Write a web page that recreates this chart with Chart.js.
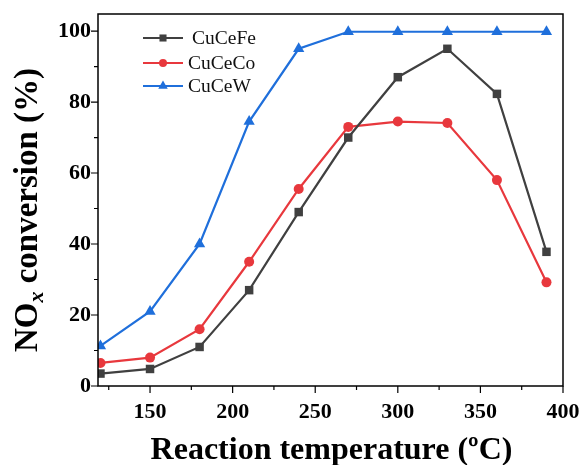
<!DOCTYPE html>
<html>
<head>
<meta charset="utf-8">
<script src="https://cdn.jsdelivr.net/npm/chart.js@4/dist/chart.umd.min.js"></script>
<style>
  html, body { margin: 0; padding: 0; background: #fff; }
  #wrap { width: 584px; height: 465px; }
</style>
</head>
<body>
<div id="wrap"><canvas id="nox-chart" width="584" height="465"></canvas></div>
<script>
// reaction temperature (°C)
const temps = [120, 150, 180, 210, 240, 270, 300, 330, 360, 390];
// NOx conversion (%)
const cuCeFe = [3.5, 4.8, 11, 27, 49, 70, 87, 95, 82.3, 37.8];
const cuCeCo = [6.5, 8, 16, 35, 55.5, 73, 74.5, 74.1, 58, 29.2];
const cuCeW  = [11.3, 21, 40, 74.5, 95, 99.8, 99.8, 99.8, 99.8, 99.8];

const xMajor = [150, 200, 250, 300, 350, 400];
const xMinor = [125, 175, 225, 275, 325, 375];
const yMajor = [0, 20, 40, 60, 80, 100];
const yMinor = [10, 30, 50, 70, 90];

const serif = "'Liberation Serif', 'Times New Roman', serif";

function pts(ys) {
  return temps.map((t, i) => ({ x: t, y: ys[i] }));
}

// frame, outward ticks, axis titles and the inset legend
const decor = {
  id: 'decor',
  afterDraw(chart) {
    const ctx = chart.ctx;
    const a = chart.chartArea;
    const xs = chart.scales.x, ys = chart.scales.y;
    ctx.save();
    ctx.strokeStyle = '#000';
    ctx.lineWidth = 1.5;
    ctx.strokeRect(a.left, a.top, a.right - a.left, a.bottom - a.top);

    ctx.lineWidth = 1.2;
    ctx.beginPath();
    xMajor.forEach(v => { const p = xs.getPixelForValue(v); ctx.moveTo(p, a.bottom); ctx.lineTo(p, a.bottom + 7); });
    xMinor.forEach(v => { const p = xs.getPixelForValue(v); ctx.moveTo(p, a.bottom); ctx.lineTo(p, a.bottom + 4); });
    yMajor.forEach(v => { const p = ys.getPixelForValue(v); ctx.moveTo(a.left, p); ctx.lineTo(a.left - 7, p); });
    yMinor.forEach(v => { const p = ys.getPixelForValue(v); ctx.moveTo(a.left, p); ctx.lineTo(a.left - 4, p); });
    ctx.stroke();
    ctx.restore();

    // x axis title
    ctx.save();
    ctx.fillStyle = '#000';
    ctx.font = 'bold 32px ' + serif;
    ctx.textAlign = 'center';
    ctx.textBaseline = 'alphabetic';
    ctx.fillText('Reaction temperature (ºC)', (a.left + a.right) / 2 + 1, 459);
    ctx.restore();

    // y axis title with subscript x
    ctx.save();
    ctx.fillStyle = '#000';
    ctx.translate(0, 210);
    ctx.rotate(-Math.PI / 2);
    const big = 'bold 33px ' + serif, sub = 'italic bold 22px ' + serif;
    ctx.font = big; const w1 = ctx.measureText('NO').width;
    ctx.font = sub; const w2 = ctx.measureText('x').width;
    ctx.font = big; const w3 = ctx.measureText(' conversion (%)').width;
    const x0 = -(w1 + w2 + w3) / 2;
    ctx.font = big; ctx.fillText('NO', x0, 37);
    ctx.font = sub; ctx.fillText('x', x0 + w1, 43);
    ctx.font = big; ctx.fillText(' conversion (%)', x0 + w1 + w2, 37);
    ctx.restore();

    // legend
    ctx.save();
    ctx.font = '19.5px ' + serif;
    ctx.textBaseline = 'middle';
    const rows = [38, 63, 86];
    chart.data.datasets.forEach((ds, i) => {
      const y = rows[i];
      const lx = 143;
      ctx.strokeStyle = ds.borderColor;
      ctx.lineWidth = 2;
      ctx.beginPath(); ctx.moveTo(lx, y); ctx.lineTo(lx + 40, y); ctx.stroke();
      ctx.fillStyle = ds.backgroundColor;
      Chart.helpers.drawPoint(ctx, { pointStyle: ds.pointStyle, radius: ds.pointRadius - 1, borderWidth: 0, rotation: 0 }, lx + 20, y);
      ctx.fillStyle = '#111';
      ctx.fillText(ds.label, i === 0 ? 192 : 188, y + 1);
    });
    ctx.restore();
  }
};

function noEdgePad(s) {
  s.paddingLeft = 0; s.paddingRight = 0; s.paddingTop = 0; s.paddingBottom = 0;
}

new Chart(document.getElementById('nox-chart'), {
  type: 'line',
  data: {
    datasets: [
      { label: 'CuCeFe', data: pts(cuCeFe), borderColor: '#404040', backgroundColor: '#404040', pointStyle: 'rect', pointRadius: 6 },
      { label: 'CuCeCo', data: pts(cuCeCo), borderColor: '#e8383d', backgroundColor: '#e8383d', pointStyle: 'circle', pointRadius: 5 },
      { label: 'CuCeW', data: pts(cuCeW), borderColor: '#1f6fdb', backgroundColor: '#1f6fdb', pointStyle: 'triangle', pointRadius: 6.5 }
    ]
  },
  options: {
    responsive: false,
    animation: false,
    elements: {
      line: { borderWidth: 2.2, tension: 0 },
      point: { borderWidth: 0 }
    },
    layout: { padding: { top: 14, right: 21, left: 0, bottom: 0 } },
    plugins: { legend: { display: false }, tooltip: { enabled: false } },
    scales: {
      x: {
        type: 'linear',
        min: 118.5,
        max: 400,
        afterBuildTicks: s => { s.ticks = xMajor.map(v => ({ value: v })); },
        afterFit: s => { s.height = 79; noEdgePad(s); },
        grid: { display: false, drawTicks: false },
        border: { display: false },
        ticks: { padding: 13, color: '#000', font: { family: serif, size: 22, weight: 'bold' } }
      },
      y: {
        min: 0,
        max: 104.8,
        afterBuildTicks: s => { s.ticks = yMajor.map(v => ({ value: v })); },
        afterFit: s => { s.width = 98; noEdgePad(s); },
        grid: { display: false, drawTicks: false },
        border: { display: false },
        ticks: { padding: 7, color: '#000', font: { family: serif, size: 22, weight: 'bold' } }
      }
    }
  },
  plugins: [decor]
});
</script>
</body>
</html>
